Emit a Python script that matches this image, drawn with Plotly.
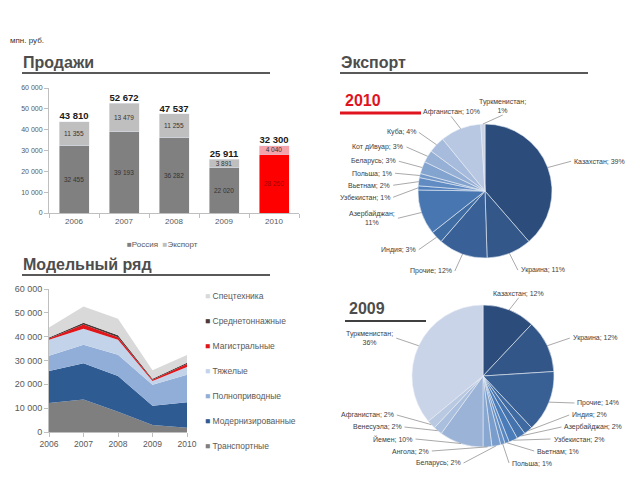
import math
import plotly.graph_objects as go

# page is 640x480; the html body has an 8px margin, so the figure is 632x472 placed at (8, 8)
PAGE_OFF = 8
W, H = 640 - PAGE_OFF, 480 - PAGE_OFF

# ---------------- data ----------------
years = ["2006", "2007", "2008", "2009", "2010"]
russia = [32455, 39193, 36282, 22020, 28260]
export = [11355, 13479, 11255, 3891, 4040]

area_years = [2006, 2007, 2008, 2009, 2010]
transport = [12200, 13600, 8500, 2900, 1800]
modern = [13400, 15200, 15000, 8100, 10700]
allwheel = [6400, 7800, 8900, 8800, 11500]
heavy = [6700, 6700, 6300, 1600, 3300]
mainline = [500, 1800, 1100, 500, 1200]
medium = [400, 700, 800, 400, 600]
special = [4200, 6900, 6900, 3600, 3200]
area_names = ["Транспортные", "Модернизированные", "Полноприводные", "Тяжелые",
              "Магистральные", "Среднетоннажные", "Спецтехника"]
area_series = [transport, modern, allwheel, heavy, mainline, medium, special]
area_colors = ["#7F7F7F", "#2F5B93", "#91AED8", "#C3D3EA", "#E0161B", "#4A3A3A", "#D9D9D9"]

pie2010_labels = ["Казахстан", "Украина", "Прочие", "Индия", "Азербайджан", "Узбекистан",
                  "Вьетнам", "Польша", "Беларусь", "Кот дИвуар", "Куба", "Афганистан", "Туркменистан"]
pie2010_values = [39, 11, 12, 3, 11, 1, 2, 1, 3, 3, 4, 10, 1]
pie2009_labels = ["Казахстан", "Украина", "Прочие", "Индия", "Азербайджан", "Узбекистан",
                  "Вьетнам", "Польша", "Беларусь", "Ангола", "Йемен", "Венесуэла", "Афганистан",
                  "Туркменистан"]
pie2009_values = [12, 12, 14, 2, 2, 2, 1, 1, 2, 2, 10, 2, 2, 36]

FONT = "Liberation Sans, Arial, sans-serif"
TXT = "#404040"


def px(x):
    return (x - PAGE_OFF) / W


def py(y):
    return 1 - (y - PAGE_OFF) / H


def fmt(v):
    return f"{v:,}".replace(",", " ")


def lerp(c1, c2, t):
    a = [int(c1[i:i + 2], 16) for i in (1, 3, 5)]
    b = [int(c2[i:i + 2], 16) for i in (1, 3, 5)]
    return "#" + "".join(f"{round(a[k] + (b[k] - a[k]) * t):02X}" for k in range(3))


def shades(n):
    out = []
    for i in range(n):
        t = i / (n - 1)
        if t < 0.4:
            out.append(lerp("#2C4D7C", "#4C7EBC", t / 0.4))
        else:
            out.append(lerp("#4C7EBC", "#CAD4E8", (t - 0.4) / 0.6))
    return out


fig = go.Figure()

# ---------------- bar chart (Продажи) ----------------
ru_colors = ["#808080"] * 4 + ["#FF0000"]
ex_colors = ["#BFBFBF"] * 4 + ["#F4A3AB"]
ru_text_col = ["#333333"] * 4 + ["#A00000"]
fig.add_trace(go.Bar(x=years, y=russia, name="Россия", marker_color=ru_colors, width=0.6,
                     text=[fmt(v) for v in russia], textposition="inside", constraintext="none",
                     insidetextanchor="middle", textangle=0,
                     textfont=dict(size=6.5, color=ru_text_col, family=FONT),
                     xaxis="x", yaxis="y", showlegend=False))
fig.add_trace(go.Bar(x=years, y=export, name="Экспорт", marker_color=ex_colors, width=0.6,
                     text=[fmt(v) for v in export], textposition="inside", constraintext="none",
                     insidetextanchor="middle", textangle=0,
                     textfont=dict(size=6.5, color="#333333", family=FONT),
                     xaxis="x", yaxis="y", showlegend=False))
totals = [a + b for a, b in zip(russia, export)]
fig.add_trace(go.Scatter(x=years, y=totals, mode="text", text=[fmt(v) for v in totals],
                         textposition="top center",
                         textfont=dict(size=9.5, color="#1A1A1A", family=FONT, weight="bold"),
                         xaxis="x", yaxis="y", showlegend=False, hoverinfo="skip"))

# ---------------- area chart (Модельный ряд) ----------------
for name, vals, col in zip(area_names, area_series, area_colors):
    fig.add_trace(go.Scatter(x=area_years, y=vals, name=name, stackgroup="one",
                             mode="lines", line=dict(width=0), fillcolor=col,
                             xaxis="x2", yaxis="y2", showlegend=False))

# ---------------- pies (Экспорт) ----------------
pies = [
    dict(labels=pie2010_labels, values=pie2010_values, cx=485, cy=191, r=67,
         wrap={"Азербайджан", "Туркменистан"}),
    dict(labels=pie2009_labels, values=pie2009_values, cx=483, cy=376, r=71,
         wrap={"Туркменистан"}),
]
annotations = []
shapes = []
CHAR_W = 3.4
for p in pies:
    cx, cy, r = p["cx"], p["cy"], p["r"]
    n = len(p["values"])
    fig.add_trace(go.Pie(labels=p["labels"], values=p["values"], sort=False,
                         direction="clockwise", rotation=0, textinfo="none",
                         marker=dict(colors=shades(n), line=dict(color="#E8ECF4", width=0.6)),
                         domain=dict(x=[px(cx - r), px(cx + r)], y=[py(cy + r), py(cy - r)]),
                         showlegend=False))
    RX, RY = r + 26, r + 18
    total = sum(p["values"])
    items = []
    cum = 0
    for lab, v in zip(p["labels"], p["values"]):
        deg = 360 * (cum + v / 2) / total
        th = math.radians(deg)
        cum += v
        s, c = math.sin(th), math.cos(th)
        wrap = lab in p["wrap"]
        if c > 0:
            side = 0 if abs(s) < 0.38 else (1 if s > 0 else -1)
        else:
            side = 1 if s > 0.25 else -1
        lines = [f"{lab};", f"{v}%"] if wrap else [f"{lab}; {v}%"]
        items.append(dict(text="<br>".join(lines), nl=len(lines), s=s, c=c, deg=deg,
                          w=CHAR_W * max(len(t) for t in lines),
                          side=side, y=cy - RY * c, x=cx + RX * s,
                          ex=cx + r * s, ey=cy - r * c))
    ymax, ymin = cy + r + 16, cy - r - 20
    for side in (-1, 1):
        grp = [it for it in items if it["side"] == side]
        grp.sort(key=lambda it: it["deg"] if side == 1 else -it["deg"])
        for i in range(1, len(grp)):
            gap = 4.5 * (grp[i - 1]["nl"] + grp[i]["nl"]) + 3
            grp[i]["y"] = max(grp[i]["y"], grp[i - 1]["y"] + gap)
        if grp and grp[-1]["y"] > ymax:
            grp[-1]["y"] = ymax
            for i in range(len(grp) - 2, -1, -1):
                gap = 4.5 * (grp[i]["nl"] + grp[i + 1]["nl"]) + 3
                grp[i]["y"] = min(grp[i]["y"], grp[i + 1]["y"] - gap)
        for it in grp:
            it["y"] = max(it["y"], ymin)
            d = (it["y"] - cy) / RY
            e = math.sqrt(max(0.0, 1 - d * d))
            it["x"] = cx + side * max(RX * abs(it["s"]), RX * e)
    top = sorted([it for it in items if it["side"] == 0], key=lambda it: it["x"])
    for i in range(1, len(top)):
        need = (top[i - 1]["w"] + top[i]["w"]) / 2 + 4
        top[i]["x"] = max(top[i]["x"], top[i - 1]["x"] + need)
    for it in items:
        x, y = it["x"], it["y"]
        if it["side"] == 0:
            lx, ly = x, y + 4.5 * it["nl"]
            anchor = "center"
        else:
            lx, ly = x - it["side"] * 1, y
            anchor = "left" if it["side"] > 0 else "right"
        annotations.append(dict(x=px(x), y=py(y), xref="paper", yref="paper", text=it["text"],
                                xanchor=anchor, yanchor="middle", showarrow=False, align="center",
                                font=dict(size=7, color=TXT, family=FONT)))
        shapes.append(dict(type="line", xref="paper", yref="paper",
                           x0=px(it["ex"]), y0=py(it["ey"]), x1=px(lx), y1=py(ly),
                           line=dict(color="#8C8C8C", width=0.75)))


# ---------------- headers ----------------
def header(text, x, y, x0, x1, ly, color="#4D4D4D", size=16, lcolor="#595959", lw=2):
    annotations.append(dict(x=px(x), y=py(y), xref="paper", yref="paper", text=f"<b>{text}</b>",
                            xanchor="left", yanchor="middle", showarrow=False,
                            font=dict(size=size, color=color, family=FONT)))
    shapes.append(dict(type="line", xref="paper", yref="paper", x0=px(x0), x1=px(x1),
                       y0=py(ly), y1=py(ly), line=dict(color=lcolor, width=lw)))


header("Продажи", 21, 62, 22, 270, 73)
header("Экспорт", 339, 62, 340, 588, 73)
header("Модельный ряд", 21, 264, 22, 270, 275)
header("2010", 343, 100, 340, 421, 113, color="#E0141E", size=16, lcolor="#E0141E", lw=3)
header("2009", 347, 308, 345, 426, 321, color="#4D4D4D", size=16, lcolor="#404040", lw=2)

annotations.append(dict(x=px(8), y=py(40), xref="paper", yref="paper", text="мпн. руб.",
                        xanchor="left", yanchor="middle", showarrow=False,
                        font=dict(size=8, color="#333333", family=FONT)))

# bar legend
annotations.append(dict(x=px(162), y=py(244), xref="paper", yref="paper",
                        text=("<span style='color:#808080'>■</span>Россия  "
                              "<span style='color:#BFBFBF'>■</span>Экспорт"),
                        xanchor="center", yanchor="middle", showarrow=False,
                        font=dict(size=8, color="#595959", family=FONT)))
# area legend (top to bottom = reversed stack order)
for i, (name, col) in enumerate(zip(reversed(area_names), reversed(area_colors))):
    annotations.append(dict(x=px(203), y=py(296 + 25 * i), xref="paper", yref="paper",
                            text=f"<span style='color:{col}'>■</span> {name}",
                            xanchor="left", yanchor="middle", showarrow=False,
                            font=dict(size=8.5, color="#595959", family=FONT)))

axis_common = dict(showline=True, linecolor="#BFBFBF", linewidth=1, ticks="outside",
                   tickcolor="#BFBFBF", ticklen=4, showgrid=False, zeroline=False,
                   automargin=False, fixedrange=True)

fig.update_layout(
    width=W, height=H, margin=dict(l=0, r=0, t=0, b=0, pad=0, autoexpand=False),
    paper_bgcolor="white", plot_bgcolor="white",
    separators=", ", barmode="stack",
    font=dict(family=FONT, color="#595959"),
    xaxis=dict(domain=[px(49), px(299)], anchor="y", type="category", tickson="boundaries",
               tickfont=dict(size=8, color="#595959"), **axis_common),
    yaxis=dict(domain=[py(213), py(88)], anchor="x", range=[0, 60000], dtick=10000,
               tickformat=",d", tickfont=dict(size=7, color="#595959"), **axis_common),
    xaxis2=dict(domain=[px(49), px(187)], anchor="y2", range=[2006, 2010], dtick=1,
                tickfont=dict(size=8.5, color="#595959"), **axis_common),
    yaxis2=dict(domain=[py(432), py(289)], anchor="x2", range=[0, 60000], dtick=10000,
                tickformat=",d", tickfont=dict(size=9, color="#595959"), **axis_common),
    annotations=annotations, shapes=shapes, showlegend=False,
)

fig.write_html("out.html")
